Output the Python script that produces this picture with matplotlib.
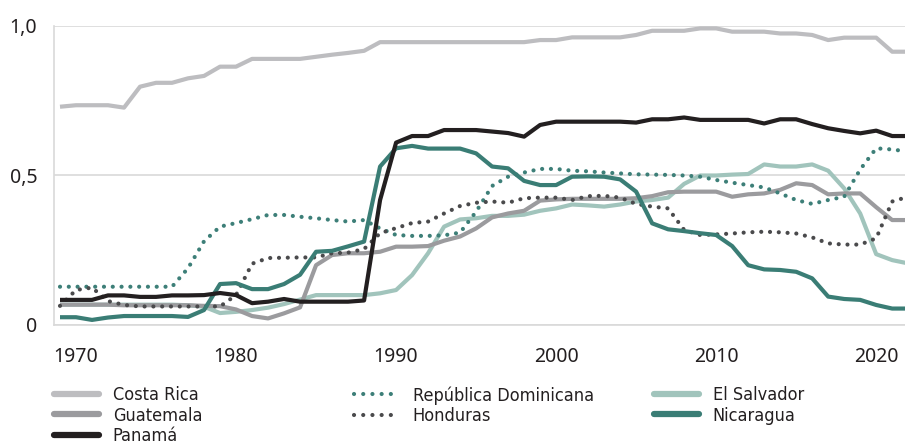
import numpy as np
import matplotlib.pyplot as plt
from matplotlib.lines import Line2D

years = np.arange(1969, 2023)

costa_rica = [0.730, 0.735, 0.735, 0.735, 0.727, 0.797, 0.810, 0.810, 0.825, 0.833,
              0.864, 0.864, 0.890, 0.890, 0.890, 0.890, 0.897, 0.904, 0.910, 0.917,
              0.946, 0.946, 0.946, 0.946, 0.946, 0.946, 0.946, 0.946, 0.946, 0.946,
              0.953, 0.953, 0.962, 0.962, 0.962, 0.962, 0.970, 0.984, 0.984, 0.984,
              0.992, 0.992, 0.981, 0.981, 0.981, 0.975, 0.975, 0.970, 0.953, 0.961,
              0.961, 0.961, 0.914, 0.914]
rep_dominicana = [0.128, 0.128, 0.128, 0.128, 0.128, 0.128, 0.128, 0.128, 0.190, 0.280,
                  0.329, 0.341, 0.354, 0.368, 0.368, 0.362, 0.357, 0.351, 0.346, 0.351,
                  0.323, 0.301, 0.298, 0.298, 0.300, 0.309, 0.379, 0.465, 0.496, 0.510,
                  0.522, 0.522, 0.516, 0.514, 0.510, 0.507, 0.504, 0.503, 0.502, 0.500,
                  0.496, 0.485, 0.476, 0.468, 0.460, 0.440, 0.418, 0.405, 0.418, 0.429,
                  0.520, 0.591, 0.587, 0.580]
el_salvador = [0.068, 0.068, 0.068, 0.068, 0.068, 0.068, 0.068, 0.068, 0.066, 0.061,
               0.040, 0.044, 0.050, 0.058, 0.070, 0.085, 0.100, 0.100, 0.100, 0.100,
               0.106, 0.117, 0.167, 0.240, 0.329, 0.353, 0.357, 0.365, 0.365, 0.369,
               0.382, 0.390, 0.403, 0.400, 0.396, 0.403, 0.413, 0.418, 0.426, 0.472,
               0.500, 0.500, 0.503, 0.505, 0.537, 0.530, 0.530, 0.537, 0.516, 0.457,
               0.373, 0.237, 0.217, 0.206]
guatemala = [0.068, 0.068, 0.068, 0.068, 0.066, 0.066, 0.066, 0.066, 0.066, 0.064,
             0.063, 0.052, 0.030, 0.022, 0.039, 0.059, 0.200, 0.234, 0.240, 0.240,
             0.245, 0.262, 0.262, 0.264, 0.282, 0.296, 0.323, 0.360, 0.373, 0.382,
             0.416, 0.420, 0.422, 0.422, 0.422, 0.422, 0.424, 0.431, 0.444, 0.446,
             0.446, 0.446, 0.429, 0.437, 0.440, 0.452, 0.474, 0.468, 0.437, 0.440,
             0.440, 0.394, 0.351, 0.351]
honduras = [0.064, 0.117, 0.125, 0.080, 0.067, 0.062, 0.062, 0.062, 0.062, 0.062,
            0.062, 0.100, 0.205, 0.224, 0.225, 0.226, 0.226, 0.240, 0.242, 0.254,
            0.307, 0.324, 0.341, 0.346, 0.373, 0.398, 0.409, 0.413, 0.409, 0.424,
            0.426, 0.426, 0.418, 0.431, 0.432, 0.426, 0.405, 0.396, 0.390, 0.318,
            0.301, 0.303, 0.306, 0.310, 0.312, 0.310, 0.306, 0.293, 0.273, 0.269,
            0.269, 0.290, 0.413, 0.429]
nicaragua = [0.026, 0.026, 0.017, 0.025, 0.030, 0.030, 0.030, 0.030, 0.027, 0.050,
             0.137, 0.140, 0.120, 0.120, 0.137, 0.168, 0.245, 0.248, 0.263, 0.279,
             0.530, 0.591, 0.599, 0.590, 0.590, 0.590, 0.574, 0.530, 0.524, 0.482,
             0.468, 0.468, 0.496, 0.497, 0.496, 0.487, 0.446, 0.340, 0.320, 0.314,
             0.307, 0.301, 0.264, 0.200, 0.186, 0.184, 0.178, 0.156, 0.095, 0.087,
             0.084, 0.067, 0.055, 0.055]
panama = [0.084, 0.084, 0.084, 0.099, 0.099, 0.094, 0.094, 0.099, 0.099, 0.100,
          0.107, 0.100, 0.073, 0.078, 0.087, 0.078, 0.078, 0.078, 0.078, 0.082,
          0.418, 0.610, 0.632, 0.632, 0.652, 0.652, 0.652, 0.647, 0.642, 0.630,
          0.669, 0.680, 0.680, 0.680, 0.680, 0.680, 0.677, 0.688, 0.688, 0.694,
          0.686, 0.686, 0.686, 0.686, 0.674, 0.688, 0.688, 0.672, 0.658, 0.649,
          0.641, 0.650, 0.632, 0.632]

dot = (0, (0.01, 2.1))
series = [
    ('Costa Rica', costa_rica, '#bdbdc0', '-'),
    ('Guatemala', guatemala, '#9b9b9e', '-'),
    ('Panamá', panama, '#231f20', '-'),
    ('República Dominicana', rep_dominicana, '#3d7f78', dot),
    ('Honduras', honduras, '#4a4a4c', dot),
    ('El Salvador', el_salvador, '#a1c4bc', '-'),
    ('Nicaragua', nicaragua, '#3a7d75', '-'),
]
draw_order = ['Costa Rica', 'El Salvador', 'Guatemala', 'República Dominicana',
              'Honduras', 'Nicaragua', 'Panamá']

fig = plt.figure(figsize=(9.05, 4.48), dpi=100)
ax = fig.add_axes([54 / 905, 123 / 448, 1 - 54 / 905, 299 / 448])

lines = {}
for name in draw_order:
    label, vals, color, ls = next(s for s in series if s[0] == name)
    ln, = ax.plot(years, vals, color=color, linestyle=ls, linewidth=3.0,
                  solid_capstyle='butt', dash_capstyle='round', label=label)
    lines[name] = ln

ax.set_xlim(1968.625, 2021.8)
ax.set_ylim(0, 1)
ax.set_xticks([1970, 1980, 1990, 2000, 2010, 2020])
ax.set_yticks([0, 0.5, 1.0])
ax.set_yticklabels(['0', '0,5', '1,0'])
ax.tick_params(length=0, labelsize=14, colors='#231f20')
ax.tick_params(axis='x', pad=16)
ax.tick_params(axis='y', pad=12)
for lbl in ax.get_xticklabels() + ax.get_yticklabels():
    lbl.set_family('Noto Sans')
ax.grid(axis='y', color='#d9d9d9', linewidth=1.2)
ax.set_axisbelow(True)
for side in ['top', 'right']:
    ax.spines[side].set_visible(False)
for side in ['left', 'bottom']:
    ax.spines[side].set_color('#d9d9d9')
    ax.spines[side].set_linewidth(1.2)

# three legend columns placed by hand
columns = [['Costa Rica', 'Guatemala', 'Panamá'],
           ['República Dominicana', 'Honduras'],
           ['El Salvador', 'Nicaragua']]
col_x = [54 / 905, 354 / 905, 654 / 905]
for names, x0 in zip(columns, col_x):
    handles = []
    for n in names:
        src = lines[n]
        if src.get_linestyle() == '-':
            h = Line2D([], [], color=src.get_color(), linewidth=4.5, solid_capstyle='round')
        else:
            h = Line2D([], [], color=src.get_color(), linewidth=3.0,
                       linestyle=(0, (0.01, 2.2)), dash_capstyle='round')
        handles.append(h)
    leg = fig.legend(handles, names, loc='upper left', bbox_to_anchor=(x0, 62 / 448),
                     frameon=False, handlelength=2.5, handletextpad=0.75,
                     labelspacing=0.14, borderaxespad=0, borderpad=0,
                     prop={'family': 'DejaVu Sans', 'stretch': 'condensed', 'size': 13})
    for t in leg.get_texts():
        t.set_color('#231f20')

fig.savefig('out.png', dpi=100)
